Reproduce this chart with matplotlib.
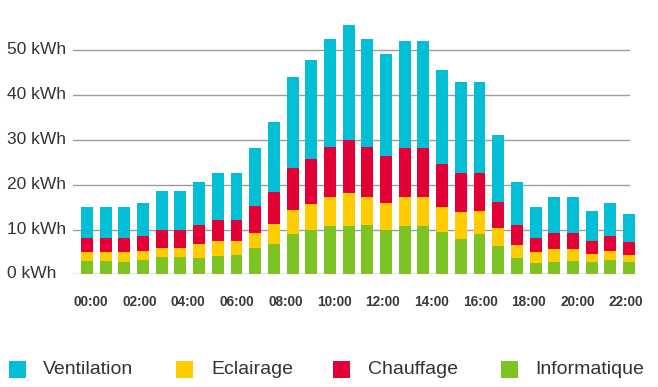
import matplotlib
matplotlib.use("Agg")
import matplotlib.pyplot as plt
from matplotlib.patches import Rectangle
import numpy as np

plt.rcParams['font.family'] = ['Liberation Sans', 'DejaVu Sans']

series_names = ["Ventilation", "Eclairage", "Chauffage", "Informatique"]
colors = {"Ventilation": "#04BED6", "Eclairage": "#FFCC00",
          "Chauffage": "#E30034", "Informatique": "#7DC423"}

informatique = [3.0, 3.0, 2.75, 3.27, 3.94, 3.94, 3.72, 4.17, 4.39, 5.95,
                6.85, 9.08, 9.97, 10.86, 10.86, 11.09, 9.97, 10.86, 10.86, 9.52,
                7.96, 9.08, 6.4, 3.72, 2.6, 2.83, 3.05, 2.83, 3.27, 2.83]
eclairage = [2.0, 2.0, 2.25, 2.01, 1.94, 1.94, 3.13, 3.34, 3.12, 3.35,
             4.46, 5.35, 5.8, 6.48, 7.37, 6.25, 6.03, 6.48, 6.48, 5.58,
             6.03, 5.13, 4.02, 2.9, 2.46, 2.9, 2.68, 1.78, 2.01, 1.56]
chauffage = [3.18, 3.18, 3.18, 3.35, 4.09, 4.09, 4.16, 4.69, 4.69, 6.03,
             7.14, 9.38, 10.05, 11.16, 11.83, 11.16, 10.49, 10.93, 10.93, 9.6,
             8.7, 8.48, 5.8, 4.47, 3.12, 3.57, 3.57, 2.9, 3.35, 2.9]
ventilation = [6.85, 6.85, 6.85, 7.37, 8.71, 8.71, 9.67, 10.49, 10.49, 12.94,
               15.55, 20.31, 22.02, 24.03, 25.67, 24.03, 22.77, 23.81, 23.81, 20.98,
               20.31, 20.31, 14.96, 9.59, 6.92, 8.04, 8.04, 6.7, 7.37, 6.25]

x_labels = ["00:00", "02:00", "04:00", "06:00", "08:00", "10:00",
            "12:00", "14:00", "16:00", "18:00", "20:00", "22:00"]
y_ticks = [0, 10, 20, 30, 40, 50]

W, H = 658, 387
fig = plt.figure(figsize=(W / 100, H / 100), dpi=100)

# axes geometry in pixels
x0_px, x1_px = 73, 630
y0_px = 274.3
px_per_unit_y = 4.48
ymax = 57
ax = fig.add_axes([x0_px / W, (H - y0_px) / H, (x1_px - x0_px) / W, ymax * px_per_unit_y / H])

n = len(informatique)
bar_step = (629 - 87) / (n - 1)
xlo = -(87 - x0_px) / bar_step
xhi = xlo + (x1_px - x0_px) / bar_step
ax.set_xlim(xlo, xhi)
ax.set_ylim(0, ymax)

xs = np.arange(n)
stack = [("Informatique", informatique), ("Eclairage", eclairage),
         ("Chauffage", chauffage), ("Ventilation", ventilation)]
bottom = np.zeros(n)
for name, vals in stack:
    vals = np.array(vals)
    ax.bar(xs, vals, bottom=bottom, width=0.64, color=colors[name],
           linewidth=0, zorder=3, clip_on=False)
    bottom = bottom + vals

for v in y_ticks:
    ax.axhline(v, color="#9E9E9E", linewidth=1.0, zorder=1)

for s in ax.spines.values():
    s.set_visible(False)
ax.set_xticks([])
ax.set_yticks([])

# y labels
for v in y_ticks:
    ypx = y0_px - v * px_per_unit_y
    fig.text(7 / W, 1 - (ypx - 0.5) / H, f"{v} kWh", ha="left", va="center",
             fontsize=12.5, color="#333333")

# x labels, evenly spaced across the plot
lab_first, lab_last = 91, 626
for k, lab in enumerate(x_labels):
    xpx = lab_first + k * (lab_last - lab_first) / (len(x_labels) - 1)
    fig.text(xpx / W, 1 - 302 / H, lab, ha="center", va="center",
             fontsize=9.8, fontweight="bold", color="#3a3a3a")

# legend
sq_x = [9, 176, 333, 501]
txt_x = [43, 211, 368, 535]
ly = 369.5
for name, sx, tx in zip(series_names, sq_x, txt_x):
    fig.add_artist(Rectangle((sx / W, 1 - (ly + 8.5) / H), 17 / W, 17 / H,
                             transform=fig.transFigure, color=colors[name], linewidth=0))
    fig.text(tx / W, 1 - (ly - 0.5) / H, name, ha="left", va="center",
             fontsize=14, color="#333333")

fig.savefig("out.png", dpi=100)
